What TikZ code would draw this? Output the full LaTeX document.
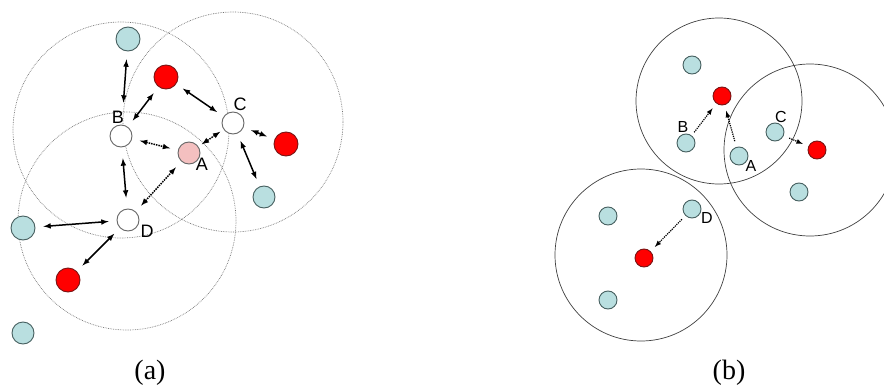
\documentclass[tikz,border=0pt]{standalone}
\usepackage{fontspec}
\setmainfont{Liberation Serif}
\newfontfamily\labelfont{Liberation Sans}
\usetikzlibrary{arrows, positioning}
\definecolor{nodeteal}{RGB}{185,223,224}
\definecolor{tealedge}{RGB}{70,95,95}
\definecolor{redfill}{RGB}{255,0,0}
\definecolor{rededge}{RGB}{120,20,20}
\definecolor{pinkfill}{RGB}{244,192,192}

\begin{document}
\begin{tikzpicture}[x=1pt, y=-1pt]
        \tikzstyle{reach} = [draw=black!55, densely dotted, line width=0.7pt]
        \tikzstyle{zone} = [draw=black!75, line width=0.7pt]
        \tikzstyle{sensor} = [circle, inner sep=0pt, minimum size=24pt, line width=0.9pt, draw=tealedge, fill=nodeteal]
        \tikzstyle{target} = [circle, inner sep=0pt, minimum size=24pt, line width=0.9pt, draw=rededge, fill=redfill]
        \tikzstyle{agent} = [circle, inner sep=0pt, minimum size=22pt, line width=0.9pt, draw=black!60, fill=white]
        \tikzstyle{tiny} = [minimum size=18pt]
        \tikzstyle{tag} = [font=\labelfont\fontsize{18}{20}\selectfont, inner sep=0pt]
        \tikzstyle{subtag} = [font=\labelfont\fontsize{16}{18}\selectfont, inner sep=0pt]
        \tikzstyle{caption} = [font=\fontsize{28}{32}\selectfont, inner sep=0pt]
        \tikzstyle{link} = [<->, >=latex, line width=1.5pt, shorten <=8pt, shorten >=8pt]
        \tikzstyle{probe} = [link, densely dotted]
        \tikzstyle{pick} = [->, >=latex, line width=1.2pt, densely dotted, shorten <=6pt, shorten >=6pt]

        \useasboundingbox (0,0) rectangle (884,388);

        % (a)
        \draw [reach] (121,130) circle (108pt);
        \draw [reach] (233,122) circle (110pt);
        \draw [reach] (127,221) circle (109pt);

        \node (tTop) [sensor] at (128,39) {};
        \node (rTop) [target] at (166,77) {};
        \node (B) [agent] at (121,136) {};
        \node (A) [agent, fill=pinkfill] at (189,153) {};
        \node (C) [agent] at (233,123) {};
        \node (rRight) [target] at (286,144) {};
        \node (tRight) [sensor, minimum size=22pt] at (264,197) {};
        \node (D) [agent] at (128,220) {};
        \node (tLeft) [sensor] at (23,228) {};
        \node (rBottom) [target] at (68,280) {};
        \node (tCorner) [sensor, minimum size=22pt] at (23,333) {};

        \node (lblB) [tag] at (118,117) {B};
        \node (lblA) [tag] at (202,164) {A};
        \node (lblC) [tag] at (240,104) {C};
        \node (lblD) [tag] at (147,231) {D};

        \draw [link, shorten >=22pt] (tTop) -- (B);
        \draw [link] (rTop) -- (B);
        \draw [link] (rTop) -- (C);
        \draw [probe] (B) -- (A);
        \draw [probe, shorten <=4pt, shorten >=4pt] (C) -- (A);
        \draw [link] (C) -- (rRight);
        \draw [link] (C) -- (tRight);
        \draw [link, shorten <=11pt, shorten >=11pt] (B) -- (D);
        \draw [probe] (D) -- (A);
        \draw [link] (tLeft) -- (D);
        \draw [link] (D) -- (rBottom);

        \node (capA) [caption] at (150,373) {(a)};

        % (b)
        \draw [zone] (719,101) circle (83pt);
        \draw [zone] (810,150) circle (86pt);
        \draw [zone] (641,255) circle (86pt);

        \node (sTop) [sensor, tiny] at (692,65) {};
        \node (goal1) [target, tiny] at (722,96) {};
        \node (sB) [sensor, tiny] at (686,143) {};
        \node (sA) [sensor, tiny] at (739,156) {};
        \node (sC) [sensor, tiny] at (775,132) {};
        \node (goal2) [target, tiny] at (817,150) {};
        \node (sLow) [sensor, tiny] at (799,192) {};
        \node (sD) [sensor, tiny] at (692,209) {};
        \node (sLeft) [sensor, tiny] at (608,216) {};
        \node (goal3) [target, tiny] at (644,258) {};
        \node (sBottom) [sensor, tiny] at (608,300) {};

        \node (lblsB) [subtag] at (683,127) {B};
        \node (lblsA) [subtag] at (751,166) {A};
        \node (lblsC) [subtag] at (781,117) {C};
        \node (lblsD) [subtag] at (707,218) {D};

        \draw [pick, shorten <=4pt] (sB) -- (goal1);
        \draw [pick] (sA) -- (goal1);
        \draw [pick] (sC) -- (goal2);
        \draw [pick, shorten <=5pt] (sD) -- (goal3);

        \node (capB) [caption] at (729,373) {(b)};
\end{tikzpicture}
\end{document}
